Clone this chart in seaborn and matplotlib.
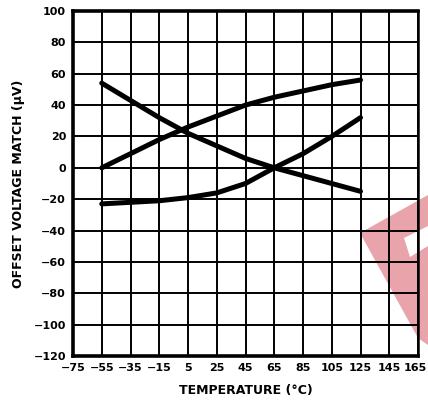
import numpy as np
import pandas as pd
import seaborn as sns
import matplotlib.pyplot as plt
import matplotlib.transforms as mtransforms
from matplotlib.patches import Polygon

# values
temps = [-55, -35, -15, 5, 25, 45, 65, 85, 105, 125]
curve_a = [54, 43, 32, 22, 14, 6, 0, -5, -10, -15]
curve_b = [0, 9, 18, 26, 33, 40, 45, 49, 53, 56]
curve_c = [-23, -22, -21, -19, -16, -10, 0, 9, 20, 32]
x_ticks = [-75, -55, -35, -15, 5, 25, 45, 65, 85, 105, 125, 145, 165]
y_ticks = [100, 80, 60, 40, 20, 0, -20, -40, -60, -80, -100, -120]

df = pd.DataFrame({
    'temp': temps * 3,
    'value': curve_a + curve_b + curve_c,
    'curve': ['a'] * len(temps) + ['b'] * len(temps) + ['c'] * len(temps),
})

sns.set_style('white')
plt.rcParams['font.family'] = ['DejaVu Sans']
plt.rcParams['text.color'] = 'black'
plt.rcParams['xtick.color'] = 'black'
plt.rcParams['ytick.color'] = 'black'
plt.rcParams['axes.labelcolor'] = 'black'

fig = plt.figure(figsize=(4.28, 4.12), dpi=100)
ax = fig.add_axes([73 / 428, 1 - 356 / 412, 345 / 428, 345 / 412])
ax.set_facecolor('none')
ax.set_zorder(2)

# pink watermark fragment in the lower right corner (figure pixels)
W, H = 428, 412
pts = [(360, 233), (428, 195), (428, 345), (418, 338)]
fig.patches.append(Polygon([(x / W, 1 - y / H) for x, y in pts], closed=True,
                           transform=fig.transFigure, facecolor='#e9a3aa',
                           edgecolor='none', zorder=-5))
white = [(404, 238), (428, 226), (428, 246), (410, 257)]
fig.patches.append(Polygon([(x / W, 1 - y / H) for x, y in white], closed=True,
                           transform=fig.transFigure, facecolor='white',
                           edgecolor='none', zorder=-4))

sns.lineplot(data=df, x='temp', y='value', units='curve', estimator=None,
             color='black', linewidth=3.6, ax=ax, zorder=3)

ax.set_xlim(-75, 165)
ax.set_ylim(-120, 100)
ax.set_xticks(x_ticks)
ax.set_yticks(y_ticks)
ax.set_xticklabels([str(t).replace('-', '\u2212') for t in x_ticks])
ax.set_yticklabels([str(t).replace('-', '\u2212') for t in y_ticks])
ax.grid(True, color='black', linewidth=1.4)
ax.tick_params(length=0, pad=5, labelsize=8)
for lab in ax.get_xticklabels() + ax.get_yticklabels():
    lab.set_fontweight('bold')
# keep the last x label inside the figure
last = ax.get_xticklabels()[-1]
last.set_transform(last.get_transform() +
                   mtransforms.ScaledTranslation(-3 / 100, 0, fig.dpi_scale_trans))

for side in ['left', 'bottom', 'top']:
    ax.spines[side].set_linewidth(2.6)
    ax.spines[side].set_color('black')
ax.spines['right'].set_linewidth(1.8)
ax.spines['right'].set_color('black')

ax.set_xlabel('TEMPERATURE (°C)', fontsize=9, fontweight='bold', labelpad=8)
ax.set_ylabel('OFFSET VOLTAGE MATCH (\u00b5V)', fontsize=9, fontweight='bold', labelpad=6)

fig.savefig('out.png', dpi=100)
